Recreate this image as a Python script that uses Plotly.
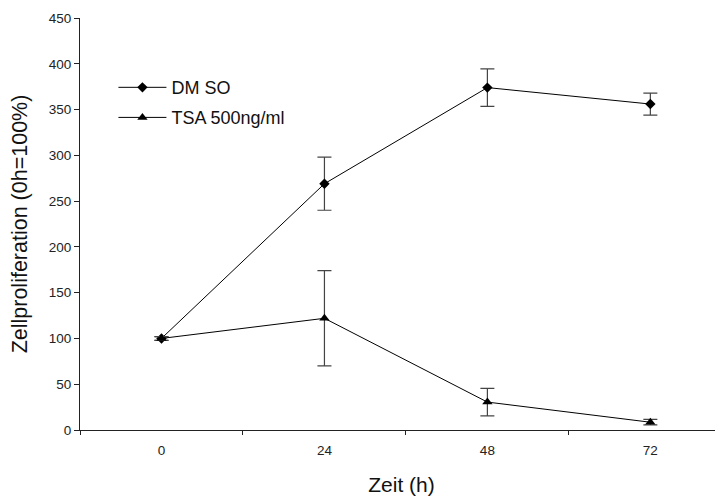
import plotly.graph_objects as go

hours = [0, 24, 48, 72]
x_tick_labels = ["0", "24", "48", "72"]
dmso = [100, 269, 374, 356]
dmso_err = [2, 29, 20.5, 12]
tsa = [100, 122, 30.5, 8.5]
tsa_err = [2, 52, 15, 3]
y_ticks = [0, 50, 100, 150, 200, 250, 300, 350, 400, 450]

font = "Liberation Sans, Arial, sans-serif"

fig = go.Figure()
fig.add_trace(go.Scatter(
    x=hours, y=dmso, name="DM SO", mode="lines+markers", legend="legend",
    line=dict(color="black", width=1),
    marker=dict(symbol="diamond", size=8, color="black"),
    error_y=dict(type="data", array=dmso_err, color="#444", thickness=1.2, width=7),
))
fig.add_trace(go.Scatter(
    x=hours, y=tsa, name="TSA 500ng/ml", mode="lines+markers", legend="legend2",
    line=dict(color="black", width=1),
    marker=dict(symbol="triangle-up", size=9, color="black"),
    error_y=dict(type="data", array=tsa_err, color="#444", thickness=1.2, width=7),
))

# page has an 8px body margin: the figure is 715x489 placed at (8, 8)
leg_common = dict(xanchor="left", yanchor="middle", itemwidth=48,
                  font=dict(size=18, family=font, color="#111"),
                  bgcolor="rgba(0,0,0,0)")
fig.update_layout(
    width=715, height=489,
    margin=dict(l=72, r=0, t=10, b=67),
    paper_bgcolor="white", plot_bgcolor="white",
    font=dict(family=font, color="#111"),
    showlegend=True,
    legend=dict(x=0.052, y=0.831, **leg_common),
    legend2=dict(x=0.052, y=0.758, **leg_common),
)
fig.update_xaxes(
    range=[-12, 82.7], tickvals=hours, ticktext=x_tick_labels, ticks="",
    showgrid=False, zeroline=False, showline=True, linecolor="#222", linewidth=1,
    tickfont=dict(size=13.5, family=font, color="#222"), automargin=False,
    ticklabelstandoff=8,
    minor=dict(tickvals=[-12, 12, 36, 60], ticks="outside", ticklen=4, tickcolor="#222", showgrid=False),
    title=dict(text="Zeit (h)", font=dict(size=21, family=font, color="#111"), standoff=20),
)
fig.update_yaxes(
    range=[0, 450], tickvals=y_ticks, ticks="outside", ticklen=5, tickcolor="#222",
    showgrid=False, zeroline=False, showline=True, linecolor="#222", linewidth=1,
    tickfont=dict(size=13.5, family=font, color="#222"), automargin=False,
    title=dict(text="\u00a0" * 7 + "Zellproliferation (0h=100%)",
               font=dict(size=21.5, family=font, color="#111"), standoff=15),
)

fig.write_html("out.html")
